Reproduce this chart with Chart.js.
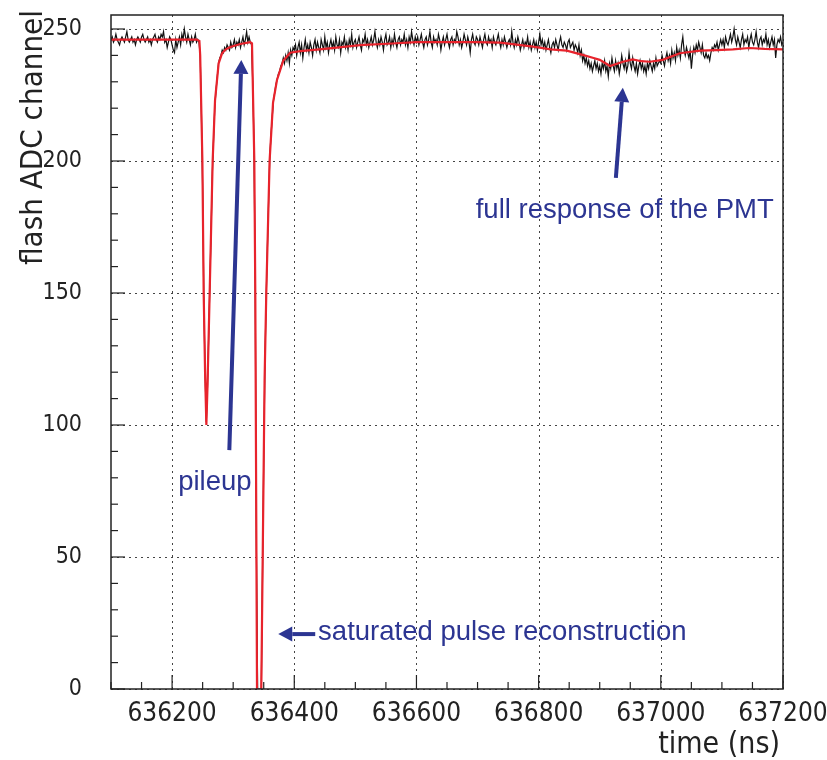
<!DOCTYPE html>
<html lang="en">
<head>
  <meta charset="UTF-8">
  <title>Flash ADC pulse</title>
  <script src="https://cdn.jsdelivr.net/npm/chart.js"></script>
  <style>
    html, body { margin: 0; padding: 0; background: #fff; }
    #wrap { width: 827px; height: 760px; }
  </style>
</head>
<body>
  <div id="wrap"><canvas id="pulseChart"></canvas></div>

  <script>
    // flash ADC samples, one every 2 ns starting at 636100 ns (one row = 100 ns)
    const sampleStart = 636100;
    const samplePeriod = 2;
    const adcSamples = [
      246,247,245,246,248,246,245,244,246,247,246,245,247,249,246,245,246,247,245,246,244,246,247,246,245,
      247,248,246,245,246,247,245,246,244,246,247,248,246,245,247,246,248,247,249,245,246,243,245,247,246,
      244,242,241,246,243,245,247,244,248,246,250,247,245,248,246,244,247,245,246,248,245,246,245,
      240,218,190,146,120,101,115,135,155,175,196,209,221,227,232,237,239,240,242,241,243,242,244,243,242,245,243,
      244,246,243,245,244,246,243,245,247,244,246,249,245,247,245,244,230,207,156,53,0,0,0,0,43,
      87,124,148,167,185,202,210,217,223,226,229,231,233,234,236,237,239,237,240,238,241,237,242,240,243,
      242,244,240,243,245,241,244,239,243,246,242,244,241,245,243,240,244,246,242,245,243,241,246,244,242,
      247,243,245,241,244,246,243,245,242,247,244,243,246,241,245,244,247,243,245,242,246,244,248,243,245,
      246,243,245,247,244,242,246,245,248,244,246,243,245,247,244,246,249,245,243,246,244,247,245,242,246,
      248,244,245,247,243,246,244,248,245,243,246,247,244,246,245,248,244,246,243,247,245,249,246,244,247,
      245,247,244,246,248,245,243,246,247,244,246,249,245,243,247,245,246,244,248,246,242,245,247,244,246,
      248,245,243,246,247,244,246,245,249,247,244,246,243,245,248,246,244,247,245,241,246,248,245,244,247,
      246,244,247,245,243,246,248,245,244,247,245,246,243,247,245,244,246,248,245,243,246,244,247,245,243,
      245,246,244,249,245,243,246,244,247,245,242,244,246,243,245,244,247,243,245,242,244,246,243,245,242,
      245,248,244,246,243,245,242,244,246,243,241,244,245,243,246,244,242,245,247,244,243,245,244,242,245,
      246,243,244,245,242,244,243,241,244,240,242,238,240,237,239,236,238,235,237,234,236,238,235,237,234,
      236,233,237,235,238,234,236,232,237,235,239,236,234,238,235,237,233,236,240,237,235,238,234,236,241,
      237,235,239,236,234,237,233,236,238,235,237,234,236,233,237,235,238,236,234,237,235,239,236,237,238,
      237,240,238,236,239,241,238,240,237,242,239,241,238,243,240,242,239,244,247,242,240,243,241,239,242,
      235,240,243,241,244,242,245,243,241,244,240,239,241,239,240,238,241,243,242,244,243,245,242,244,246,
      244,246,243,247,245,244,246,248,245,247,250,246,244,247,245,243,246,248,244,246,245,247,243,246,248,
      245,244,246,249,245,243,246,247,244,246,245,248,244,246,243,245,247,244,246,239,244,246,245,247,244,
      245
    ];

    // fitted PMT response (red curve)
    const fitTimes = [
      636100, 636150, 636200, 636240, 636244.7, 636246, 636249.6, 636251.7, 636254, 636256.1,
      636258, 636261.5, 636266.4, 636270.3, 636276.2, 636281.8, 636288, 636295.4, 636311.7, 636328.1,
      636330.8, 636334.6, 636336.2, 636339, 636342.8, 636346, 636351.4, 636354.2, 636359.6, 636365.2,
      636371.7, 636382, 636393.4, 636410, 636450, 636508, 636560, 636600, 636650, 636700,
      636737, 636791, 636820, 636846, 636872, 636890, 636900, 636917, 636938, 636954,
      636968, 636982, 637003, 637031, 637064, 637091, 637118, 637145, 637170, 637200
    ];
    const fitValues = [
      246, 246, 246, 246, 245.5, 240, 200, 150, 120, 100,
      115, 150, 200, 223, 237, 240.8, 242.3, 243.2, 244.3, 245,
      244.6, 200, 150, 0, -40, 0, 117, 150, 200, 222,
      230.7, 238, 241, 241.6, 242.5, 243.9, 244.5, 245, 245, 245,
      244.8, 243.3, 242.3, 241.8, 240.2, 239, 238.3, 236, 237.6, 238.5,
      237.8, 237.6, 238.3, 240.8, 241.8, 242, 242.3, 242.8, 242.5, 242.3
    ];

    const xTickLabels = [636200, 636400, 636600, 636800, 637000, 637200];
    const yTickLabels = [0, 50, 100, 150, 200, 250];

    const annotations = [
      { text: 'pileup', at: [636210, 75.5], from: [636293.7, 90.5], to: [636313.3, 238.3] },
      { text: 'saturated pulse reconstruction', at: [636439, 18.6], from: [636434.3, 20.8], to: [636373.8, 20.8] },
      { text: 'full response of the PMT', at: [636697, 178.4], from: [636926.4, 193.6], to: [636937.8, 227.7] }
    ];

    const rawPoints = adcSamples.map((v, i) => ({ x: sampleStart + i * samplePeriod, y: v }));
    const fitPoints = fitTimes.map((t, i) => ({ x: t, y: fitValues[i] }));

    const blue = '#2c3592';
    const tickFont = "'DejaVu Sans Condensed', 'Liberation Sans', sans-serif";

    function arrow(ctx, x0, y0, x1, y1) {
      const ang = Math.atan2(y1 - y0, x1 - x0);
      const headLen = 14, headHalf = 7.5;
      const bx = x1 - headLen * Math.cos(ang), by = y1 - headLen * Math.sin(ang);
      ctx.beginPath();
      ctx.moveTo(x0, y0);
      ctx.lineTo(bx, by);
      ctx.stroke();
      ctx.beginPath();
      ctx.moveTo(x1, y1);
      ctx.lineTo(bx + headHalf * Math.sin(ang), by - headHalf * Math.cos(ang));
      ctx.lineTo(bx - headHalf * Math.sin(ang), by + headHalf * Math.cos(ang));
      ctx.closePath();
      ctx.fill();
    }

    const rootFrame = {
      id: 'rootFrame',
      beforeDatasetsDraw(chart) {
        const { ctx, chartArea: a, scales: { x, y } } = chart;
        ctx.save();
        ctx.strokeStyle = '#444';
        ctx.lineWidth = 1;
        ctx.setLineDash([2, 4]);
        xTickLabels.forEach(v => {
          const px = Math.round(x.getPixelForValue(v)) + 0.5;
          ctx.beginPath(); ctx.moveTo(px, a.bottom); ctx.lineTo(px, a.top); ctx.stroke();
        });
        yTickLabels.forEach(v => {
          const py = Math.round(y.getPixelForValue(v)) + 0.5;
          ctx.beginPath(); ctx.moveTo(a.left, py); ctx.lineTo(a.right, py); ctx.stroke();
        });
        ctx.restore();
      },
      afterDatasetsDraw(chart) {
        const { ctx, chartArea: a, scales: { x, y } } = chart;
        ctx.save();
        // frame
        ctx.strokeStyle = '#222';
        ctx.lineWidth = 1.5;
        ctx.strokeRect(a.left, a.top, a.right - a.left, a.bottom - a.top);
        // inward ticks, long on labelled values
        ctx.lineWidth = 1.2;
        x.ticks.forEach(t => {
          const px = x.getPixelForValue(t.value);
          const len = xTickLabels.includes(t.value) ? 14 : 7;
          ctx.beginPath(); ctx.moveTo(px, a.bottom); ctx.lineTo(px, a.bottom - len); ctx.stroke();
        });
        y.ticks.forEach(t => {
          const py = y.getPixelForValue(t.value);
          const len = yTickLabels.includes(t.value) ? 14 : 7;
          ctx.beginPath(); ctx.moveTo(a.left, py); ctx.lineTo(a.left + len, py); ctx.stroke();
        });

        // axis titles
        ctx.fillStyle = '#222';
        ctx.font = "30px " + tickFont;
        ctx.textAlign = 'right';
        ctx.textBaseline = 'alphabetic';
        ctx.fillText('time (ns)', 780, 753);
        ctx.save();
        ctx.translate(42, 10);
        ctx.rotate(-Math.PI / 2);
        ctx.font = "31px " + tickFont;
        ctx.fillText('flash ADC channel', 0, 0);
        ctx.restore();

        // annotations
        ctx.fillStyle = blue;
        ctx.strokeStyle = blue;
        ctx.lineWidth = 4;
        ctx.font = "27.5px 'Liberation Sans', Arial, sans-serif";
        ctx.textAlign = 'left';
        annotations.forEach(n => {
          ctx.fillText(n.text, x.getPixelForValue(n.at[0]), y.getPixelForValue(n.at[1]));
          arrow(ctx, x.getPixelForValue(n.from[0]), y.getPixelForValue(n.from[1]),
                x.getPixelForValue(n.to[0]), y.getPixelForValue(n.to[1]));
        });
        ctx.restore();
      }
    };

    new Chart(document.getElementById('pulseChart'), {
      type: 'line',
      data: {
        datasets: [
          {
            label: 'fit',
            data: fitPoints,
            borderColor: '#e8232c',
            borderWidth: 2.2,
            pointRadius: 0,
            tension: 0,
            order: 0
          },
          {
            label: 'flash ADC',
            data: rawPoints,
            borderColor: '#111',
            borderWidth: 1.2,
            pointRadius: 0,
            tension: 0,
            order: 1
          }
        ]
      },
      options: {
        responsive: true,
        maintainAspectRatio: false,
        animation: false,
        events: [],
        layout: { padding: { top: 15, right: 44, left: 0, bottom: 0 } },
        plugins: { legend: { display: false }, tooltip: { enabled: false } },
        scales: {
          x: {
            type: 'linear',
            min: 636100,
            max: 637200,
            afterFit: s => { s.height = 71; s.paddingLeft = 0; s.paddingRight = 0; },
            grid: { display: false },
            border: { display: false },
            ticks: {
              stepSize: 50,
              autoSkip: false,
              maxRotation: 0,
              padding: 2,
              color: '#222',
              font: { family: tickFont, size: 26 },
              callback: v => xTickLabels.includes(v) ? String(v) : ''
            }
          },
          y: {
            min: 0,
            max: 255.3,
            afterFit: s => { s.width = 111; s.paddingTop = 0; s.paddingBottom = 0; },
            grid: { display: false },
            border: { display: false },
            ticks: {
              stepSize: 10,
              includeBounds: false,
              autoSkip: false,
              padding: 21,
              color: '#222',
              font: { family: tickFont, size: 23 },
              callback: v => yTickLabels.includes(v) ? String(v) : ''
            }
          }
        }
      },
      plugins: [rootFrame]
    });
  </script>
</body>
</html>
